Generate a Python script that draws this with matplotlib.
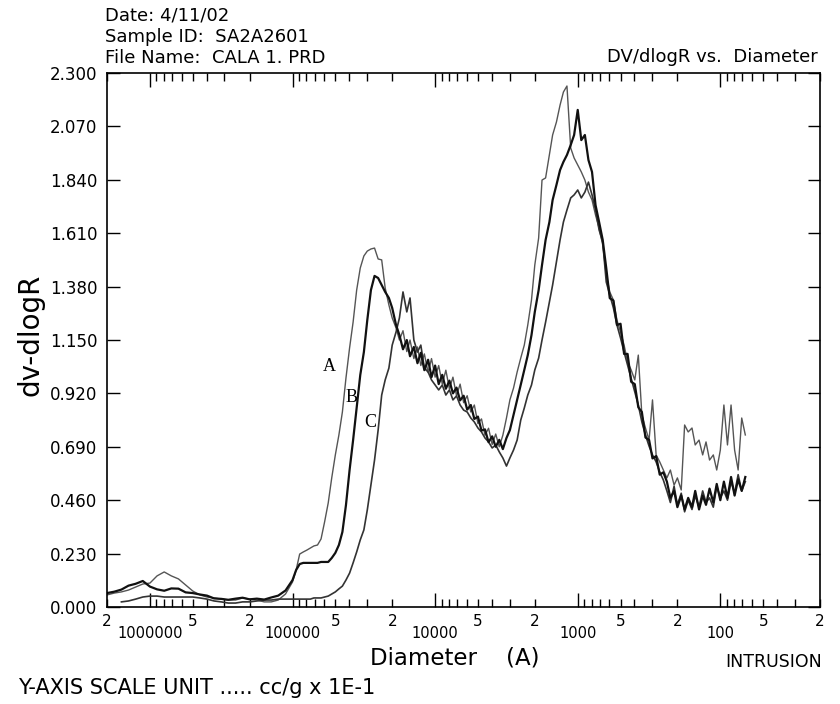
import numpy as np
import matplotlib
matplotlib.use("Agg")
import matplotlib.pyplot as plt
from matplotlib.ticker import FixedLocator, FixedFormatter, FormatStrFormatter

# pore diameter (Angstrom) at which the three intrusion runs were read
diameter = [
    2.0e6, 1.778e6, 1.585e6, 1.413e6, 1.259e6, 1.122e6, 1.0e6, 8.91e5, 7.94e5, 7.08e5,
    6.31e5, 5.62e5, 5.01e5, 4.47e5, 3.98e5, 3.55e5, 3.16e5, 2.82e5, 2.51e5, 2.24e5,
    2.0e5, 1.78e5, 1.58e5, 1.41e5, 1.26e5, 1.12e5,
    100000, 94400, 89100, 84100, 79400, 75000, 70800, 66800, 63100, 59600,
    56200, 53100, 50100, 47300, 44700, 42200, 39800, 37600, 35500, 33500,
    31600, 29900, 28200, 26600, 25100, 23700, 22400, 21100, 20000, 18800,
    17800, 16800, 15800, 15000, 14100, 13300, 12600, 11900, 11200, 10600,
    10000, 9440, 8910, 8410, 7940, 7500, 7080, 6680, 6310, 5960,
    5620, 5310, 5010, 4730, 4470, 4220, 3980, 3760, 3550, 3350,
    3160, 2990, 2820, 2660, 2510, 2370, 2240, 2110, 2000, 1880,
    1780, 1680, 1580, 1500, 1410, 1330, 1260, 1190, 1120, 1060,
    1000, 944, 891, 841, 794, 750, 708, 668, 631, 596,
    562, 531, 501, 473, 447, 422, 398, 376, 355, 335,
    316, 299, 282, 266, 251, 237, 224, 211, 200, 188,
    178, 168, 158, 150, 141, 133, 126, 119, 112, 106,
    100, 94.4, 89.1, 84.1, 79.4, 75.0, 70.8, 66.8,
]

# dV/dlogR (cc/g x 1E-1)
run_a = [
    0.052, 0.060, 0.065, 0.073, 0.086, 0.099, 0.103, 0.134, 0.151, 0.134,
    0.121, 0.095, 0.069, 0.052, 0.043, 0.039, 0.034, 0.030, 0.030, 0.039,
    0.034, 0.030, 0.022, 0.022, 0.030, 0.056,
    0.108, 0.159, 0.228, 0.237, 0.245, 0.254, 0.263, 0.267, 0.293, 0.366,
    0.448, 0.556, 0.655, 0.741, 0.840, 0.986, 1.116, 1.227, 1.365, 1.460,
    1.512, 1.533, 1.542, 1.546, 1.499, 1.495, 1.374, 1.301, 1.245, 1.202,
    1.150, 1.190, 1.100, 1.150, 1.070, 1.120, 1.040, 1.090, 1.010, 1.070,
    0.990, 1.040, 0.960, 1.020, 0.940, 0.990, 0.910, 0.960, 0.880, 0.910,
    0.840, 0.870, 0.790, 0.810, 0.740, 0.770, 0.700, 0.745, 0.690, 0.740,
    0.814, 0.892, 0.943, 1.012, 1.072, 1.128, 1.215, 1.322, 1.473, 1.589,
    1.839, 1.848, 1.947, 2.033, 2.089, 2.162, 2.218, 2.244, 1.977, 1.934,
    1.904, 1.874, 1.839, 1.787, 1.753, 1.688, 1.632, 1.559, 1.430, 1.357,
    1.322, 1.236, 1.184, 1.128, 1.055, 1.021, 0.978, 1.085, 0.827, 0.771,
    0.719, 0.892, 0.655, 0.625, 0.590, 0.556, 0.590, 0.525, 0.556, 0.504,
    0.784, 0.754, 0.771, 0.698, 0.719, 0.655, 0.711, 0.633, 0.655, 0.590,
    0.676, 0.870, 0.698, 0.870, 0.676, 0.590, 0.814, 0.741,
]

run_b = [
    0.060, 0.066, 0.075, 0.092, 0.100, 0.112, 0.088, 0.076, 0.070, 0.080,
    0.079, 0.063, 0.060, 0.054, 0.049, 0.037, 0.035, 0.031, 0.036, 0.040,
    0.033, 0.036, 0.032, 0.041, 0.049, 0.071,
    0.116, 0.159, 0.185, 0.190, 0.190, 0.190, 0.190, 0.190, 0.194, 0.194,
    0.194, 0.211, 0.233, 0.267, 0.323, 0.439, 0.590, 0.719, 0.857, 0.999,
    1.098, 1.236, 1.365, 1.426, 1.417, 1.387, 1.357, 1.331, 1.288, 1.215,
    1.171, 1.110, 1.150, 1.080, 1.120, 1.050, 1.095, 1.020, 1.065, 0.990,
    1.040, 0.960, 1.000, 0.940, 0.975, 0.920, 0.945, 0.890, 0.910, 0.850,
    0.870, 0.810, 0.820, 0.760, 0.765, 0.710, 0.735, 0.690, 0.720, 0.680,
    0.728, 0.762, 0.827, 0.892, 0.956, 1.021, 1.085, 1.171, 1.271, 1.365,
    1.473, 1.581, 1.658, 1.753, 1.818, 1.882, 1.917, 1.947, 1.990, 2.033,
    2.141, 2.011, 2.033, 1.925, 1.874, 1.731, 1.658, 1.581, 1.460, 1.330,
    1.320, 1.215, 1.220, 1.090, 1.090, 0.970, 0.960, 0.860, 0.840, 0.730,
    0.720, 0.640, 0.650, 0.570, 0.580, 0.540, 0.470, 0.500, 0.430, 0.480,
    0.420, 0.470, 0.430, 0.500, 0.420, 0.480, 0.440, 0.510, 0.450, 0.530,
    0.460, 0.540, 0.470, 0.560, 0.480, 0.550, 0.500, 0.560,
]

run_c = [
    np.nan, np.nan, 0.022, 0.026, 0.034, 0.043, 0.047, 0.047, 0.043, 0.043,
    0.043, 0.043, 0.043, 0.039, 0.034, 0.026, 0.022, 0.017, 0.017, 0.022,
    0.022, 0.026, 0.030, 0.030, 0.034, 0.034,
    0.034, 0.034, 0.034, 0.034, 0.034, 0.034, 0.039, 0.039, 0.039, 0.043,
    0.047, 0.056, 0.065, 0.078, 0.090, 0.116, 0.146, 0.190, 0.237, 0.289,
    0.332, 0.418, 0.525, 0.633, 0.762, 0.913, 0.978, 1.029, 1.128, 1.184,
    1.245, 1.357, 1.271, 1.331, 1.150, 1.098, 1.128, 1.029, 1.012, 0.978,
    0.956, 0.935, 0.956, 0.913, 0.935, 0.892, 0.909, 0.870, 0.848, 0.840,
    0.814, 0.797, 0.771, 0.754, 0.728, 0.711, 0.685, 0.698, 0.668, 0.642,
    0.607, 0.642, 0.676, 0.719, 0.805, 0.857, 0.913, 0.956, 1.021, 1.072,
    1.150, 1.227, 1.314, 1.387, 1.486, 1.581, 1.658, 1.710, 1.762, 1.775,
    1.796, 1.762, 1.787, 1.830, 1.775, 1.710, 1.624, 1.572, 1.400, 1.344,
    1.288, 1.215, 1.159, 1.098, 1.042, 0.986, 0.926, 0.870, 0.797, 0.741,
    0.693, 0.655, 0.625, 0.581, 0.547, 0.500, 0.450, 0.520, 0.440, 0.490,
    0.410, 0.460, 0.420, 0.480, 0.430, 0.500, 0.450, 0.470, 0.430, 0.520,
    0.470, 0.500, 0.460, 0.540, 0.490, 0.570, 0.500, 0.540,
]

y_ticks = [0.0, 0.23, 0.46, 0.69, 0.92, 1.15, 1.38, 1.61, 1.84, 2.07, 2.30]
decades = [1e6, 1e5, 1e4, 1e3, 1e2]
decade_labels = ["1000000", "100000", "10000", "1000", "100"]

# curve tags: (label, diameter, dv)
tags = [("A", 55500, 1.038), ("B", 38300, 0.904), ("C", 28600, 0.793)]

plt.rcParams["font.family"] = ["DejaVu Sans"]

fig = plt.figure(figsize=(8.4, 7.04), dpi=100)
ax = fig.add_axes([107 / 840, 97 / 704, 713 / 840, 534 / 704])

ax.plot(diameter, run_a, color="#555555", lw=1.0)
ax.plot(diameter, run_c, color="#333333", lw=1.2)
ax.plot(diameter, run_b, color="#111111", lw=1.6)

ax.set_xscale("log")
ax.set_xlim(2.0e6, 20)
ax.set_ylim(0, 2.3)

# y axis
ax.yaxis.set_major_locator(FixedLocator(y_ticks))
ax.yaxis.set_major_formatter(FormatStrFormatter("%.3f"))
ax.tick_params(axis="y", which="major", direction="in", length=9, width=1,
               right=True, labelsize=12, pad=7)
ax.tick_params(axis="y", which="minor", left=False, right=False)

# x axis: decades below, 2 and 5 marks a bit higher
minor = []
for dec in [1e6, 1e5, 1e4, 1e3, 1e2, 1e1]:
    for m in range(2, 10):
        v = m * dec
        if 19.9 <= v <= 2.0e6 * 1.001:
            minor.append(v)
minor_labels = []
for v in minor:
    m = round(v / 10 ** np.floor(np.log10(v)))
    minor_labels.append(str(m) if m in (2, 5) else "")

ax.xaxis.set_major_locator(FixedLocator(decades))
ax.xaxis.set_major_formatter(FixedFormatter(decade_labels))
ax.xaxis.set_minor_locator(FixedLocator(minor))
ax.xaxis.set_minor_formatter(FixedFormatter(minor_labels))
ax.tick_params(axis="x", which="major", direction="in", length=10, width=1,
               top=True, labelsize=10.5, pad=13.5)
ax.tick_params(axis="x", which="minor", direction="in", length=6, width=1,
               top=True, labelsize=11, pad=5)

for s in ax.spines.values():
    s.set_linewidth(1.2)

for name, d, v in tags:
    ax.text(d, v, name, family="Liberation Serif", fontsize=13,
            ha="center", va="center")

# header and footer text
fig.text(105 / 840, 1 - 15 / 704, "Date: 4/11/02", fontsize=13, va="center")
fig.text(105 / 840, 1 - 37 / 704, "Sample ID:  SA2A2601", fontsize=13, va="center")
fig.text(105 / 840, 1 - 58 / 704, "File Name:  CALA 1. PRD", fontsize=13, va="center")
fig.text(818 / 840, 1 - 57 / 704, "DV/dlogR vs.  Diameter", fontsize=13,
         ha="right", va="center")
fig.text(30 / 840, 1 - 335 / 704, "dv-dlogR", fontsize=20, rotation=90,
         ha="center", va="center")
fig.text(370 / 840, 1 - 658 / 704, "Diameter    (A)", fontsize=16.5, va="center")
fig.text(822 / 840, 1 - 662 / 704, "INTRUSION", fontsize=12.5, ha="right", va="center")
fig.text(18 / 840, 1 - 688 / 704, "Y-AXIS SCALE UNIT ..... cc/g x 1E-1",
         fontsize=15, va="center")

fig.savefig("out.png", dpi=100)
